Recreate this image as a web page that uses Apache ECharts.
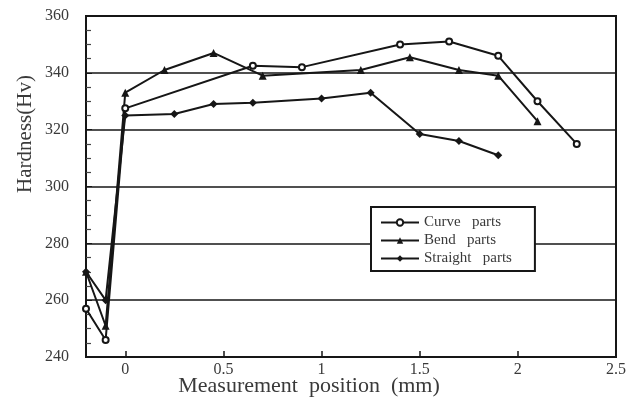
<!DOCTYPE html>
<html>
<head>
<meta charset="utf-8">
<script src="https://cdn.jsdelivr.net/npm/echarts@6/dist/echarts.min.js"></script>
<style>
  html, body { margin: 0; padding: 0; background: #fff; }
  #chart { width: 642px; height: 403px; }
</style>
</head>
<body>
<div id="chart"></div>
<script>
// values
const curveX = [-0.2, -0.1, 0, 0.65, 0.9, 1.4, 1.65, 1.9, 2.1, 2.3];
const curveY = [257, 246, 327.5, 342.5, 342, 350, 351, 346, 330, 315];

const bendX = [-0.2, -0.1, 0, 0.2, 0.45, 0.7, 1.2, 1.45, 1.7, 1.9, 2.1];
const bendY = [270, 251, 333, 341, 347, 339, 341, 345.5, 341, 339, 323];

const straightX = [-0.2, -0.1, 0, 0.25, 0.45, 0.65, 1.0, 1.25, 1.5, 1.7, 1.9];
const straightY = [270, 260, 325, 325.5, 329, 329.5, 331, 333, 318.5, 316, 311];

const xLabels = [0, 0.5, 1, 1.5, 2, 2.5];
const xTicks = [0, 0.5, 1, 1.5, 2];

function pairs(xs, ys) {
    let out = [];
    for (let i = 0; i < xs.length; i++) {
        out.push([xs[i], ys[i]]);
    }
    return out;
}

const serif = "'Liberation Serif', 'DejaVu Serif', serif";
const ink = '#161616';
const textCol = '#3a3a3a';

const chart = echarts.init(document.getElementById('chart'), null, { renderer: 'canvas' });

chart.setOption({
    animation: false,
    backgroundColor: '#fff',
    grid: {
        left: 86, right: 26, top: 16, bottom: 46,
        show: true, borderColor: ink, borderWidth: 2
    },
    legend: {
        orient: 'vertical',
        left: 371, top: 207,
        backgroundColor: '#fff',
        borderColor: ink, borderWidth: 2,
        padding: [8, 23, 5, 9],
        itemGap: 3,
        itemWidth: 38, itemHeight: 8,
        textStyle: { fontFamily: serif, fontSize: 15, color: textCol, lineHeight: 14 },
        data: ['Curve   parts', 'Bend   parts', 'Straight   parts']
    },
    xAxis: {
        type: 'value',
        min: -0.2, max: 2.5,
        axisLine: { onZero: false, lineStyle: { color: ink, width: 2 } },
        axisTick: { inside: true, length: 6, customValues: xTicks, lineStyle: { color: ink, width: 1.5 } },
        axisLabel: { customValues: xLabels, fontFamily: serif, fontSize: 16, color: textCol, margin: 5 },
        splitLine: { show: false }
    },
    yAxis: {
        type: 'value',
        min: 240, max: 360, interval: 20,
        axisLine: { show: true, onZero: false, lineStyle: { color: ink, width: 2 } },
        axisTick: { show: true, inside: true, length: 6, lineStyle: { color: ink } },
        minorTick: { show: true, splitNumber: 4, length: 5, lineStyle: { color: '#444', width: 1.2 } },
        axisLabel: { fontFamily: serif, fontSize: 16, color: textCol, margin: 17 },
        splitLine: { show: true, lineStyle: { color: ink, width: 1.6 } }
    },
    graphic: [
        {
            type: 'text', x: 25, y: 134, rotation: Math.PI / 2,
            style: { text: 'Hardness(Hv)', font: '21px ' + serif, fill: textCol, align: 'center', verticalAlign: 'middle' }
        },
        {
            type: 'text', x: 309, y: 386,
            style: { text: 'Measurement  position  (mm)', font: '22px ' + serif, fill: textCol, align: 'center', verticalAlign: 'middle' }
        }
    ],
    series: [
        {
            name: 'Curve   parts', type: 'line',
            data: pairs(curveX, curveY),
            symbol: 'emptyCircle', symbolSize: 6,
            lineStyle: { color: ink, width: 2 },
            itemStyle: { color: ink, borderColor: ink, borderWidth: 1.2 }
        },
        {
            name: 'Bend   parts', type: 'line',
            data: pairs(bendX, bendY),
            symbol: 'triangle', symbolSize: 8,
            lineStyle: { color: ink, width: 2 },
            itemStyle: { color: ink }
        },
        {
            name: 'Straight   parts', type: 'line',
            data: pairs(straightX, straightY),
            symbol: 'diamond', symbolSize: 8,
            lineStyle: { color: ink, width: 2 },
            itemStyle: { color: ink }
        }
    ]
});
</script>
</body>
</html>
